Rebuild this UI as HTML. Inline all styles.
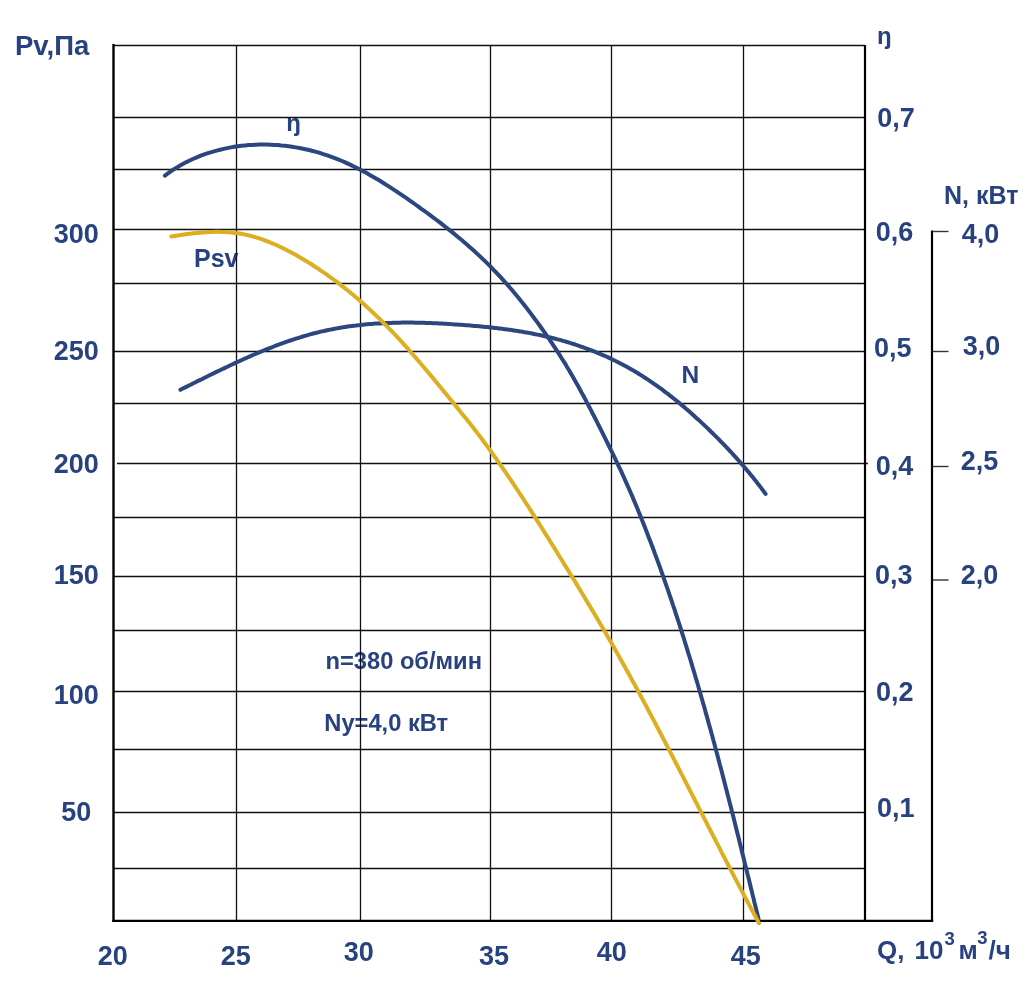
<!DOCTYPE html>
<html><head><meta charset="utf-8"><title>Fan performance chart</title>
<style>
html,body{margin:0;padding:0;background:#fff;}
body{width:1035px;height:990px;overflow:hidden;}
svg{display:block;}
text{font-family:"Liberation Sans",Arial,sans-serif;font-weight:bold;fill:#28417f;}
</style></head><body>
<svg width="1035" height="990" viewBox="0 0 1035 990">
<g>
<text x="15" y="55" font-size="27.5" text-anchor="start" >Pv,Па</text>
<text x="76.3" y="243" font-size="27" text-anchor="middle" >300</text>
<text x="76.3" y="360" font-size="27" text-anchor="middle" >250</text>
<text x="76.3" y="473" font-size="27" text-anchor="middle" >200</text>
<text x="76.3" y="584" font-size="27" text-anchor="middle" >150</text>
<text x="76.3" y="704" font-size="27" text-anchor="middle" >100</text>
<text x="76.3" y="821" font-size="27" text-anchor="middle" >50</text>
<text x="112.8" y="965" font-size="27" text-anchor="middle" >20</text>
<text x="235.7" y="965" font-size="27" text-anchor="middle" >25</text>
<text x="358.7" y="961" font-size="27" text-anchor="middle" >30</text>
<text x="494.1" y="965" font-size="27" text-anchor="middle" >35</text>
<text x="611.75" y="961" font-size="27" text-anchor="middle" >40</text>
<text x="745.65" y="965" font-size="27" text-anchor="middle" >45</text>
<text x="877.3" y="127.0" font-size="27" text-anchor="start" >0,7</text>
<text x="875.8" y="241" font-size="27" text-anchor="start" >0,6</text>
<text x="873.9" y="357.0" font-size="27" text-anchor="start" >0,5</text>
<text x="875.8" y="475.0" font-size="27" text-anchor="start" >0,4</text>
<text x="874.9" y="584.0" font-size="27" text-anchor="start" >0,3</text>
<text x="876.1" y="701.0" font-size="27" text-anchor="start" >0,2</text>
<text x="876.9" y="817.0" font-size="27" text-anchor="start" >0,1</text>
<text x="877" y="44" font-size="24" text-anchor="start" >ŋ</text>
<text x="944" y="204" font-size="25" text-anchor="start" >N, кВт</text>
<text x="961.8" y="243.0" font-size="27" text-anchor="start" >4,0</text>
<text x="962.8" y="355" font-size="27" text-anchor="start" >3,0</text>
<text x="960.8" y="470" font-size="27" text-anchor="start" >2,5</text>
<text x="960.8" y="584.0" font-size="27" text-anchor="start" >2,0</text>
<text x="286.3" y="131" font-size="24" text-anchor="start" >ŋ</text>
<text x="194" y="267" font-size="25" text-anchor="start" >Psv</text>
<text x="681.5" y="383" font-size="24.5" text-anchor="start" >N</text>
<text x="325.5" y="669" font-size="23.7" text-anchor="start" >n=380 об/мин</text>
<text x="324.3" y="731" font-size="23.7" text-anchor="start" >Ny=4,0 кВт</text>
<text x="877" y="959" font-size="26">Q, <tspan x="914.5">10</tspan><tspan x="944.6" y="944.6" font-size="18.5">3</tspan><tspan x="958.6" y="959">м</tspan><tspan x="977.3" y="943.9" font-size="18.5">3</tspan><tspan x="988.6" y="959">/ч</tspan></text>
</g>
<g stroke="#111" stroke-width="1.3" fill="none">
<line x1="113" y1="45.5" x2="865" y2="45.5"/>
<line x1="113" y1="117.5" x2="865" y2="117.5"/>
<line x1="113" y1="169.5" x2="865" y2="169.5"/>
<line x1="113" y1="229.5" x2="865" y2="229.5"/>
<line x1="113" y1="283.5" x2="865" y2="283.5"/>
<line x1="113" y1="351.5" x2="865" y2="351.5"/>
<line x1="113" y1="403.5" x2="865" y2="403.5"/>
<line x1="117" y1="463.5" x2="868" y2="463.5"/>
<line x1="113" y1="517.5" x2="865" y2="517.5"/>
<line x1="113" y1="576.5" x2="865" y2="576.5"/>
<line x1="113" y1="630.5" x2="865" y2="630.5"/>
<line x1="113" y1="691.5" x2="865" y2="691.5"/>
<line x1="113" y1="749.5" x2="865" y2="749.5"/>
<line x1="113" y1="812.5" x2="865" y2="812.5"/>
<line x1="113" y1="868.5" x2="865" y2="868.5"/>
<line x1="236.5" y1="45" x2="236.5" y2="920"/>
<line x1="360.5" y1="45" x2="360.5" y2="920"/>
<line x1="490.5" y1="45" x2="490.5" y2="920"/>
<line x1="611.5" y1="45" x2="611.5" y2="920"/>
<line x1="743.5" y1="45" x2="743.5" y2="920"/>
</g>
<g stroke="#000" fill="none">
<line x1="113.5" y1="44" x2="113.5" y2="922" stroke-width="2.4"/>
<line x1="865" y1="45" x2="865" y2="921" stroke-width="2.2"/>
<line x1="112.3" y1="920.8" x2="933.2" y2="920.8" stroke-width="2.3"/>
<line x1="932" y1="230.5" x2="932" y2="921" stroke-width="2.2"/>
<line x1="933" y1="231.5" x2="948.5" y2="231.5" stroke-width="1.4" stroke="#333"/>
<line x1="933" y1="351.5" x2="948.5" y2="351.5" stroke-width="1.4" stroke="#333"/>
<line x1="933" y1="466.5" x2="948.5" y2="466.5" stroke-width="1.4" stroke="#333"/>
<line x1="933" y1="580.0" x2="948.5" y2="580.0" stroke-width="1.4" stroke="#333"/>
</g>
<g fill="none" stroke-width="4" stroke-linecap="round" stroke-linejoin="round">
<path d="M180.4,389.8 L182.3,388.8 L184.2,387.9 L186.2,386.9 L188.1,385.9 L190.1,385.0 L192.0,384.0 L193.9,383.0 L195.9,382.1 L197.8,381.1 L199.8,380.1 L201.8,379.2 L203.7,378.2 L205.7,377.2 L207.6,376.3 L209.6,375.3 L211.6,374.3 L213.5,373.4 L215.5,372.4 L217.5,371.4 L219.5,370.5 L221.4,369.5 L223.4,368.6 L225.4,367.6 L227.4,366.7 L229.4,365.7 L231.4,364.8 L233.4,363.9 L235.4,362.9 L237.4,362.0 L239.4,361.1 L241.4,360.2 L243.4,359.3 L245.4,358.4 L247.4,357.5 L249.4,356.6 L251.5,355.7 L253.5,354.8 L255.5,353.9 L257.5,353.1 L259.6,352.2 L261.6,351.4 L263.6,350.5 L265.7,349.7 L267.7,348.9 L269.7,348.1 L271.8,347.3 L273.8,346.5 L275.9,345.7 L277.9,344.9 L280.0,344.2 L282.1,343.4 L284.1,342.7 L286.2,341.9 L288.3,341.2 L290.3,340.5 L292.4,339.8 L294.5,339.1 L296.6,338.4 L298.7,337.8 L300.8,337.1 L302.8,336.5 L304.9,335.9 L307.0,335.3 L309.1,334.7 L311.2,334.1 L313.3,333.5 L315.5,333.0 L317.6,332.5 L319.7,331.9 L321.8,331.4 L323.9,331.0 L326.1,330.5 L328.2,330.0 L330.3,329.6 L332.5,329.2 L334.6,328.8 L336.7,328.4 L338.9,328.0 L341.0,327.6 L343.2,327.3 L345.3,326.9 L347.5,326.6 L349.6,326.3 L351.8,326.0 L354.0,325.7 L356.1,325.5 L358.3,325.2 L360.5,325.0 L362.6,324.7 L364.8,324.5 L367.0,324.3 L369.2,324.1 L371.4,324.0 L373.5,323.8 L375.7,323.6 L377.9,323.5 L380.1,323.4 L382.3,323.2 L384.5,323.1 L386.7,323.0 L388.8,322.9 L391.0,322.9 L393.2,322.8 L395.4,322.7 L397.6,322.7 L399.8,322.7 L402.0,322.6 L404.2,322.6 L406.4,322.6 L408.6,322.6 L410.8,322.6 L413.0,322.6 L415.2,322.7 L417.4,322.7 L419.6,322.7 L421.8,322.8 L424.0,322.8 L426.2,322.9 L428.4,323.0 L430.7,323.1 L432.9,323.2 L435.1,323.2 L437.3,323.3 L439.5,323.5 L441.7,323.6 L443.9,323.7 L446.1,323.8 L448.3,323.9 L450.5,324.1 L452.7,324.2 L454.9,324.4 L457.1,324.5 L459.3,324.7 L461.5,324.8 L463.7,325.0 L465.9,325.2 L468.1,325.3 L470.3,325.5 L472.4,325.7 L474.6,325.9 L476.8,326.1 L479.0,326.3 L481.2,326.5 L483.4,326.7 L485.6,326.9 L487.8,327.1 L489.9,327.4 L492.1,327.6 L494.3,327.9 L496.5,328.1 L498.7,328.4 L500.8,328.6 L503.0,328.9 L505.2,329.2 L507.3,329.5 L509.5,329.8 L511.7,330.1 L513.8,330.4 L516.0,330.7 L518.1,331.1 L520.3,331.4 L522.5,331.8 L524.6,332.2 L526.8,332.5 L528.9,332.9 L531.1,333.3 L533.2,333.7 L535.3,334.2 L537.5,334.6 L539.6,335.0 L541.7,335.5 L543.9,336.0 L546.0,336.5 L548.1,337.0 L550.3,337.5 L552.4,338.0 L554.5,338.5 L556.6,339.1 L558.7,339.6 L560.8,340.2 L562.9,340.8 L565.0,341.4 L567.1,342.0 L569.2,342.7 L571.3,343.3 L573.4,344.0 L575.5,344.7 L577.6,345.3 L579.7,346.1 L581.7,346.8 L583.8,347.5 L585.9,348.3 L587.9,349.0 L590.0,349.8 L592.0,350.6 L594.1,351.4 L596.1,352.2 L598.1,353.1 L600.1,353.9 L602.2,354.8 L604.2,355.6 L606.2,356.5 L608.2,357.4 L610.2,358.4 L612.1,359.3 L614.1,360.3 L616.1,361.2 L618.1,362.2 L620.0,363.2 L622.0,364.2 L623.9,365.2 L625.8,366.3 L627.7,367.3 L629.7,368.4 L631.6,369.5 L633.4,370.6 L635.3,371.7 L637.2,372.8 L639.1,374.0 L640.9,375.1 L642.8,376.3 L644.6,377.5 L646.5,378.7 L648.3,379.9 L650.1,381.1 L651.9,382.3 L653.7,383.6 L655.5,384.8 L657.3,386.1 L659.1,387.4 L660.9,388.6 L662.6,389.9 L664.4,391.3 L666.1,392.6 L667.9,393.9 L669.6,395.3 L671.3,396.6 L673.0,398.0 L674.8,399.3 L676.5,400.7 L678.2,402.1 L679.9,403.5 L681.5,404.9 L683.2,406.3 L684.9,407.8 L686.6,409.2 L688.2,410.6 L689.9,412.1 L691.5,413.5 L693.2,415.0 L694.8,416.5 L696.4,417.9 L698.1,419.4 L699.7,420.9 L701.3,422.4 L702.9,423.9 L704.5,425.4 L706.1,426.9 L707.7,428.4 L709.3,430.0 L710.8,431.5 L712.4,433.0 L714.0,434.6 L715.5,436.1 L717.1,437.7 L718.6,439.2 L720.2,440.8 L721.7,442.4 L723.2,443.9 L724.8,445.5 L726.3,447.1 L727.8,448.7 L729.3,450.3 L730.8,451.9 L732.3,453.5 L733.7,455.1 L735.2,456.7 L736.7,458.4 L738.1,460.0 L739.6,461.6 L741.0,463.3 L742.5,464.9 L743.9,466.6 L745.3,468.2 L746.7,469.9 L748.1,471.6 L749.5,473.3 L750.9,475.0 L752.3,476.6 L753.7,478.3 L755.0,480.1 L756.4,481.8 L757.7,483.5 L759.1,485.2 L760.4,486.9 L761.7,488.7 L763.0,490.4 L764.3,492.2 L765.6,493.9" stroke="#2c467f"/>
<path d="M164.9,175.6 L167.9,173.4 L170.8,171.3 L173.9,169.3 L176.9,167.4 L180.1,165.6 L183.2,163.8 L186.4,162.1 L189.7,160.5 L192.9,159.0 L196.2,157.6 L199.6,156.2 L202.9,154.9 L206.3,153.7 L209.7,152.6 L213.2,151.6 L216.7,150.6 L220.2,149.7 L223.7,148.9 L227.2,148.1 L230.8,147.4 L234.3,146.8 L237.9,146.3 L241.5,145.8 L245.1,145.4 L248.7,145.1 L252.3,144.9 L256.0,144.7 L259.6,144.6 L263.2,144.6 L266.9,144.6 L270.5,144.7 L274.1,144.9 L277.8,145.1 L281.4,145.5 L285.0,145.8 L288.6,146.3 L292.2,146.8 L295.8,147.4 L299.4,148.0 L303.0,148.7 L306.5,149.5 L310.0,150.3 L313.5,151.2 L317.0,152.2 L320.5,153.2 L323.9,154.3 L327.3,155.4 L330.7,156.6 L334.1,157.9 L337.4,159.2 L340.8,160.5 L344.1,161.9 L347.3,163.4 L350.6,164.9 L353.8,166.5 L357.1,168.1 L360.3,169.7 L363.5,171.4 L366.6,173.1 L369.8,174.9 L372.9,176.7 L376.0,178.5 L379.2,180.3 L382.2,182.2 L385.3,184.2 L388.4,186.1 L391.4,188.1 L394.5,190.1 L397.5,192.1 L400.5,194.1 L403.5,196.2 L406.5,198.2 L409.5,200.3 L412.5,202.4 L415.4,204.5 L418.4,206.6 L421.3,208.8 L424.3,210.9 L427.2,213.0 L430.1,215.2 L433.0,217.4 L435.9,219.5 L438.8,221.7 L441.7,223.9 L444.6,226.2 L447.4,228.4 L450.2,230.6 L453.1,232.9 L455.9,235.2 L458.6,237.5 L461.4,239.8 L464.2,242.2 L466.9,244.5 L469.6,246.9 L472.3,249.3 L475.0,251.7 L477.6,254.1 L480.3,256.6 L482.9,259.1 L485.5,261.6 L488.1,264.1 L490.6,266.7 L493.1,269.3 L495.6,271.9 L498.1,274.5 L500.6,277.1 L503.0,279.8 L505.4,282.5 L507.8,285.2 L510.2,288.0 L512.6,290.7 L514.9,293.5 L517.2,296.3 L519.5,299.1 L521.8,301.9 L524.0,304.8 L526.2,307.6 L528.5,310.5 L530.7,313.4 L532.8,316.3 L535.0,319.2 L537.2,322.1 L539.3,325.0 L541.4,328.0 L543.5,330.9 L545.6,333.9 L547.6,336.8 L549.7,339.8 L551.7,342.8 L553.7,345.8 L555.7,348.9 L557.7,351.9 L559.6,354.9 L561.5,358.0 L563.5,361.1 L565.4,364.1 L567.2,367.2 L569.1,370.3 L570.9,373.4 L572.7,376.6 L574.5,379.7 L576.3,382.9 L578.1,386.0 L579.8,389.2 L581.5,392.4 L583.3,395.5 L585.0,398.7 L586.6,401.9 L588.3,405.1 L590.0,408.4 L591.7,411.6 L593.3,414.8 L595.0,418.0 L596.6,421.2 L598.2,424.5 L599.9,427.7 L601.5,430.9 L603.1,434.2 L604.7,437.4 L606.3,440.6 L607.9,443.9 L609.5,447.1 L611.1,450.4 L612.7,453.6 L614.3,456.9 L615.8,460.1 L617.4,463.4 L618.9,466.7 L620.5,469.9 L622.0,473.2 L623.5,476.5 L625.0,479.8 L626.5,483.1 L627.9,486.4 L629.4,489.7 L630.8,493.0 L632.3,496.4 L633.7,499.7 L635.1,503.0 L636.5,506.4 L637.9,509.7 L639.2,513.1 L640.6,516.4 L641.9,519.8 L643.3,523.2 L644.6,526.5 L645.9,529.9 L647.2,533.3 L648.5,536.7 L649.8,540.0 L651.1,543.4 L652.4,546.8 L653.7,550.2 L654.9,553.6 L656.2,557.0 L657.4,560.4 L658.7,563.8 L659.9,567.2 L661.1,570.6 L662.3,574.0 L663.5,577.4 L664.7,580.8 L665.9,584.3 L667.1,587.7 L668.3,591.1 L669.4,594.5 L670.6,598.0 L671.8,601.4 L672.9,604.8 L674.1,608.2 L675.2,611.7 L676.3,615.1 L677.5,618.6 L678.6,622.0 L679.7,625.4 L680.8,628.9 L681.9,632.3 L683.0,635.8 L684.1,639.2 L685.1,642.7 L686.2,646.1 L687.3,649.6 L688.3,653.1 L689.4,656.5 L690.5,660.0 L691.5,663.4 L692.5,666.9 L693.6,670.4 L694.6,673.8 L695.6,677.3 L696.7,680.8 L697.7,684.3 L698.7,687.7 L699.7,691.2 L700.7,694.7 L701.7,698.2 L702.7,701.7 L703.7,705.1 L704.7,708.6 L705.6,712.1 L706.6,715.6 L707.6,719.1 L708.5,722.6 L709.5,726.1 L710.5,729.5 L711.4,733.0 L712.4,736.5 L713.3,740.0 L714.3,743.5 L715.2,747.0 L716.1,750.5 L717.1,754.0 L718.0,757.5 L718.9,761.0 L719.8,764.5 L720.8,768.0 L721.7,771.5 L722.6,775.0 L723.5,778.5 L724.4,782.0 L725.3,785.5 L726.2,789.0 L727.1,792.5 L728.0,796.1 L728.9,799.6 L729.8,803.1 L730.7,806.6 L731.6,810.1 L732.5,813.6 L733.4,817.1 L734.3,820.6 L735.1,824.1 L736.0,827.6 L736.9,831.2 L737.8,834.7 L738.7,838.2 L739.5,841.7 L740.4,845.2 L741.3,848.7 L742.1,852.2 L743.0,855.7 L743.9,859.3 L744.7,862.8 L745.6,866.3 L746.5,869.8 L747.3,873.3 L748.2,876.8 L749.1,880.3 L749.9,883.8 L750.8,887.4 L751.7,890.9 L752.5,894.4 L753.4,897.9 L754.2,901.4 L755.1,904.9 L756.0,908.4 L756.8,911.9 L757.7,915.5 L758.6,919.0" stroke="#2c467f"/>
<path d="M171.3,236.5 L174.4,236.0 L177.6,235.5 L180.8,235.0 L183.9,234.5 L187.1,234.1 L190.3,233.7 L193.5,233.3 L196.7,233.0 L199.8,232.7 L203.0,232.4 L206.2,232.2 L209.4,232.0 L212.6,231.9 L215.8,231.8 L219.0,231.8 L222.1,231.9 L225.3,232.0 L228.4,232.2 L231.6,232.5 L234.7,232.9 L237.8,233.3 L240.9,233.8 L244.0,234.4 L247.1,235.0 L250.1,235.7 L253.2,236.6 L256.2,237.4 L259.2,238.4 L262.2,239.4 L265.2,240.5 L268.2,241.6 L271.1,242.8 L274.0,244.0 L277.0,245.3 L279.9,246.7 L282.7,248.1 L285.6,249.5 L288.4,251.0 L291.3,252.5 L294.1,254.0 L296.9,255.6 L299.6,257.2 L302.4,258.8 L305.1,260.5 L307.9,262.1 L310.6,263.8 L313.3,265.5 L315.9,267.3 L318.6,269.0 L321.2,270.8 L323.9,272.6 L326.5,274.4 L329.1,276.3 L331.6,278.1 L334.2,280.0 L336.8,281.9 L339.3,283.9 L341.8,285.8 L344.3,287.8 L346.8,289.7 L349.3,291.7 L351.7,293.8 L354.1,295.8 L356.6,297.8 L359.0,299.9 L361.4,302.0 L363.8,304.1 L366.1,306.2 L368.5,308.4 L370.8,310.5 L373.1,312.7 L375.4,314.9 L377.7,317.1 L380.0,319.3 L382.2,321.5 L384.5,323.8 L386.7,326.0 L388.9,328.3 L391.2,330.6 L393.3,332.9 L395.5,335.2 L397.7,337.5 L399.9,339.9 L402.0,342.2 L404.1,344.6 L406.3,346.9 L408.4,349.3 L410.5,351.7 L412.6,354.1 L414.7,356.5 L416.7,358.9 L418.8,361.3 L420.9,363.7 L423.0,366.2 L425.0,368.6 L427.1,371.0 L429.1,373.5 L431.1,375.9 L433.2,378.4 L435.2,380.8 L437.2,383.3 L439.3,385.8 L441.3,388.2 L443.3,390.7 L445.3,393.1 L447.3,395.6 L449.3,398.1 L451.4,400.5 L453.4,403.0 L455.4,405.5 L457.4,407.9 L459.4,410.4 L461.4,412.9 L463.4,415.4 L465.4,417.8 L467.4,420.3 L469.4,422.8 L471.3,425.3 L473.3,427.8 L475.2,430.3 L477.2,432.9 L479.1,435.4 L481.0,437.9 L482.9,440.5 L484.8,443.0 L486.7,445.6 L488.6,448.1 L490.4,450.7 L492.3,453.3 L494.1,455.9 L496.0,458.5 L497.8,461.1 L499.6,463.7 L501.4,466.3 L503.2,468.9 L505.0,471.5 L506.8,474.1 L508.6,476.8 L510.4,479.4 L512.2,482.1 L513.9,484.7 L515.7,487.3 L517.5,490.0 L519.2,492.7 L520.9,495.3 L522.7,498.0 L524.4,500.7 L526.1,503.3 L527.9,506.0 L529.6,508.7 L531.3,511.4 L533.0,514.1 L534.7,516.7 L536.4,519.4 L538.1,522.1 L539.8,524.8 L541.5,527.5 L543.2,530.2 L544.9,532.9 L546.6,535.6 L548.3,538.3 L549.9,541.0 L551.6,543.7 L553.3,546.4 L555.0,549.1 L556.7,551.8 L558.3,554.5 L560.0,557.2 L561.7,560.0 L563.4,562.7 L565.0,565.4 L566.7,568.1 L568.4,570.8 L570.0,573.5 L571.7,576.2 L573.4,578.9 L575.0,581.6 L576.7,584.4 L578.3,587.1 L580.0,589.8 L581.6,592.5 L583.3,595.2 L584.9,598.0 L586.5,600.7 L588.2,603.4 L589.8,606.1 L591.4,608.9 L593.1,611.6 L594.7,614.3 L596.3,617.1 L597.9,619.8 L599.5,622.6 L601.2,625.3 L602.8,628.0 L604.4,630.8 L606.0,633.5 L607.5,636.3 L609.1,639.0 L610.7,641.8 L612.3,644.6 L613.9,647.3 L615.4,650.1 L617.0,652.9 L618.6,655.6 L620.1,658.4 L621.7,661.2 L623.2,664.0 L624.8,666.7 L626.3,669.5 L627.9,672.3 L629.4,675.1 L630.9,677.9 L632.4,680.7 L634.0,683.4 L635.5,686.2 L637.0,689.0 L638.5,691.8 L640.0,694.6 L641.5,697.4 L643.0,700.2 L644.5,703.0 L646.0,705.8 L647.5,708.7 L649.0,711.5 L650.5,714.3 L652.0,717.1 L653.5,719.9 L655.0,722.7 L656.4,725.5 L657.9,728.4 L659.4,731.2 L660.9,734.0 L662.3,736.8 L663.8,739.6 L665.3,742.5 L666.7,745.3 L668.2,748.1 L669.7,750.9 L671.1,753.8 L672.6,756.6 L674.0,759.4 L675.5,762.2 L677.0,765.1 L678.4,767.9 L679.9,770.7 L681.3,773.6 L682.8,776.4 L684.2,779.2 L685.7,782.1 L687.1,784.9 L688.6,787.7 L690.0,790.6 L691.5,793.4 L692.9,796.2 L694.4,799.1 L695.8,801.9 L697.3,804.7 L698.7,807.6 L700.2,810.4 L701.6,813.2 L703.1,816.1 L704.5,818.9 L706.0,821.7 L707.4,824.6 L708.8,827.4 L710.3,830.2 L711.8,833.1 L713.2,835.9 L714.7,838.7 L716.1,841.6 L717.6,844.4 L719.0,847.2 L720.5,850.1 L721.9,852.9 L723.4,855.7 L724.9,858.5 L726.3,861.4 L727.8,864.2 L729.3,867.0 L730.7,869.8 L732.2,872.7 L733.7,875.5 L735.1,878.3 L736.6,881.1 L738.1,883.9 L739.6,886.7 L741.1,889.6 L742.5,892.4 L744.0,895.2 L745.5,898.0 L747.0,900.8 L748.5,903.6 L750.0,906.4 L751.5,909.2 L753.0,912.0 L754.5,914.8 L756.0,917.6 L757.5,920.4 L759.1,923.2" stroke="#dcae22"/>
</g>
</svg>
</body></html>
